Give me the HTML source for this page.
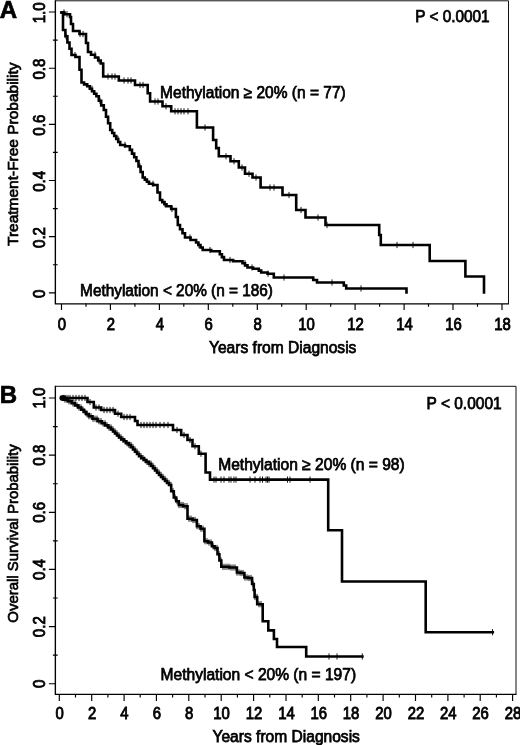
<!DOCTYPE html>
<html lang="en"><head><meta charset="utf-8"><title>Figure</title>
<style>html,body{margin:0;padding:0;background:#fff}svg{display:block;will-change:transform;opacity:0.999}</style></head>
<body>
<svg width="520" height="745" viewBox="0 0 520 745">
<rect width="520" height="745" fill="#fff"/>
<path d="M55.4 303.9 V0.8 H508.5 V303.9" fill="none" stroke="#111" stroke-width="1"/>
<path d="M55.4 0.30000000000000004 V303.9 H509.0" fill="none" stroke="#000" stroke-width="1.3"/>
<path d="M48.9 292.8 H55.4 M52.9 264.7 H57.699999999999996 M48.9 236.6 H55.4 M52.9 208.6 H57.699999999999996 M48.9 180.5 H55.4 M52.9 152.4 H57.699999999999996 M48.9 124.3 H55.4 M52.9 96.2 H57.699999999999996 M48.9 68.2 H55.4 M52.9 40.1 H57.699999999999996 M48.9 12.0 H55.4 M61.5 303.9 v6.0 M86.0 303.4 v3.3 M110.4 303.9 v6.0 M134.9 303.4 v3.3 M159.4 303.9 v6.0 M183.8 303.4 v3.3 M208.3 303.9 v6.0 M232.8 303.4 v3.3 M257.3 303.9 v6.0 M281.7 303.4 v3.3 M306.2 303.9 v6.0 M330.7 303.4 v3.3 M355.1 303.9 v6.0 M379.6 303.4 v3.3 M404.1 303.9 v6.0 M428.5 303.4 v3.3 M453.0 303.9 v6.0 M477.5 303.4 v3.3 M502.0 303.9 v6.0" fill="none" stroke="#000" stroke-width="1.15"/>
<text transform="translate(44.7 293.7) rotate(-90) scale(0.93 1)" text-anchor="middle" font-family="Liberation Sans, Arial, Helvetica, sans-serif" font-size="16.2" stroke="#000" stroke-width="0.85">0</text>
<text transform="translate(44.7 237.5) rotate(-90) scale(0.93 1)" text-anchor="middle" font-family="Liberation Sans, Arial, Helvetica, sans-serif" font-size="16.2" stroke="#000" stroke-width="0.85">0.2</text>
<text transform="translate(44.7 181.4) rotate(-90) scale(0.93 1)" text-anchor="middle" font-family="Liberation Sans, Arial, Helvetica, sans-serif" font-size="16.2" stroke="#000" stroke-width="0.85">0.4</text>
<text transform="translate(44.7 125.2) rotate(-90) scale(0.93 1)" text-anchor="middle" font-family="Liberation Sans, Arial, Helvetica, sans-serif" font-size="16.2" stroke="#000" stroke-width="0.85">0.6</text>
<text transform="translate(44.7 69.1) rotate(-90) scale(0.93 1)" text-anchor="middle" font-family="Liberation Sans, Arial, Helvetica, sans-serif" font-size="16.2" stroke="#000" stroke-width="0.85">0.8</text>
<text transform="translate(44.7 12.9) rotate(-90) scale(0.93 1)" text-anchor="middle" font-family="Liberation Sans, Arial, Helvetica, sans-serif" font-size="16.2" stroke="#000" stroke-width="0.85">1.0</text>
<text transform="translate(61.9 329.5) scale(0.92 1)" text-anchor="middle" font-family="Liberation Sans, Arial, Helvetica, sans-serif" font-size="16.2" stroke="#000" stroke-width="0.85">0</text>
<text transform="translate(110.8 329.5) scale(0.92 1)" text-anchor="middle" font-family="Liberation Sans, Arial, Helvetica, sans-serif" font-size="16.2" stroke="#000" stroke-width="0.85">2</text>
<text transform="translate(159.8 329.5) scale(0.92 1)" text-anchor="middle" font-family="Liberation Sans, Arial, Helvetica, sans-serif" font-size="16.2" stroke="#000" stroke-width="0.85">4</text>
<text transform="translate(208.7 329.5) scale(0.92 1)" text-anchor="middle" font-family="Liberation Sans, Arial, Helvetica, sans-serif" font-size="16.2" stroke="#000" stroke-width="0.85">6</text>
<text transform="translate(257.7 329.5) scale(0.92 1)" text-anchor="middle" font-family="Liberation Sans, Arial, Helvetica, sans-serif" font-size="16.2" stroke="#000" stroke-width="0.85">8</text>
<text transform="translate(306.6 329.5) scale(0.92 1)" text-anchor="middle" font-family="Liberation Sans, Arial, Helvetica, sans-serif" font-size="16.2" stroke="#000" stroke-width="0.85">10</text>
<text transform="translate(355.5 329.5) scale(0.92 1)" text-anchor="middle" font-family="Liberation Sans, Arial, Helvetica, sans-serif" font-size="16.2" stroke="#000" stroke-width="0.85">12</text>
<text transform="translate(404.5 329.5) scale(0.92 1)" text-anchor="middle" font-family="Liberation Sans, Arial, Helvetica, sans-serif" font-size="16.2" stroke="#000" stroke-width="0.85">14</text>
<text transform="translate(453.4 329.5) scale(0.92 1)" text-anchor="middle" font-family="Liberation Sans, Arial, Helvetica, sans-serif" font-size="16.2" stroke="#000" stroke-width="0.85">16</text>
<text transform="translate(502.4 329.5) scale(0.92 1)" text-anchor="middle" font-family="Liberation Sans, Arial, Helvetica, sans-serif" font-size="16.2" stroke="#000" stroke-width="0.85">18</text>
<text x="-0.3" y="17.6" font-family="Liberation Sans, Arial, Helvetica, sans-serif" font-size="24" font-weight="bold" stroke="#000" stroke-width="0.7">A</text>
<text transform="translate(17.6 154.2) rotate(-90)" text-anchor="middle" textLength="183.5" lengthAdjust="spacingAndGlyphs" font-family="Liberation Sans, Arial, Helvetica, sans-serif" font-size="15.5" stroke="#000" stroke-width="0.7">Treatment-Free Probability</text>
<path d="M55.4 694.4 V386.3 H516.0 V694.4" fill="none" stroke="#111" stroke-width="1"/>
<path d="M55.4 385.8 V694.4 H516.5" fill="none" stroke="#000" stroke-width="1.3"/>
<path d="M48.9 683.7 H55.4 M52.9 655.1 H57.699999999999996 M48.9 626.6 H55.4 M52.9 598.0 H57.699999999999996 M48.9 569.4 H55.4 M52.9 540.9 H57.699999999999996 M48.9 512.3 H55.4 M52.9 483.7 H57.699999999999996 M48.9 455.1 H55.4 M52.9 426.6 H57.699999999999996 M48.9 398.0 H55.4 M59.3 694.4 v6.6 M75.5 693.9 v3.6 M91.7 694.4 v6.6 M107.9 693.9 v3.6 M124.1 694.4 v6.6 M140.2 693.9 v3.6 M156.4 694.4 v6.6 M172.6 693.9 v3.6 M188.8 694.4 v6.6 M205.0 693.9 v3.6 M221.2 694.4 v6.6 M237.4 693.9 v3.6 M253.6 694.4 v6.6 M269.8 693.9 v3.6 M286.0 694.4 v6.6 M302.2 693.9 v3.6 M318.3 694.4 v6.6 M334.5 693.9 v3.6 M350.7 694.4 v6.6 M366.9 693.9 v3.6 M383.1 694.4 v6.6 M399.3 693.9 v3.6 M415.5 694.4 v6.6 M431.7 693.9 v3.6 M447.9 694.4 v6.6 M464.1 693.9 v3.6 M480.2 694.4 v6.6 M496.4 693.9 v3.6 M512.6 694.4 v6.6" fill="none" stroke="#000" stroke-width="1.15"/>
<text transform="translate(44.7 683.8) rotate(-90) scale(0.93 1)" text-anchor="middle" font-family="Liberation Sans, Arial, Helvetica, sans-serif" font-size="16.2" stroke="#000" stroke-width="0.85">0</text>
<text transform="translate(44.7 626.7) rotate(-90) scale(0.93 1)" text-anchor="middle" font-family="Liberation Sans, Arial, Helvetica, sans-serif" font-size="16.2" stroke="#000" stroke-width="0.85">0.2</text>
<text transform="translate(44.7 569.5) rotate(-90) scale(0.93 1)" text-anchor="middle" font-family="Liberation Sans, Arial, Helvetica, sans-serif" font-size="16.2" stroke="#000" stroke-width="0.85">0.4</text>
<text transform="translate(44.7 512.4) rotate(-90) scale(0.93 1)" text-anchor="middle" font-family="Liberation Sans, Arial, Helvetica, sans-serif" font-size="16.2" stroke="#000" stroke-width="0.85">0.6</text>
<text transform="translate(44.7 455.2) rotate(-90) scale(0.93 1)" text-anchor="middle" font-family="Liberation Sans, Arial, Helvetica, sans-serif" font-size="16.2" stroke="#000" stroke-width="0.85">0.8</text>
<text transform="translate(44.7 398.1) rotate(-90) scale(0.93 1)" text-anchor="middle" font-family="Liberation Sans, Arial, Helvetica, sans-serif" font-size="16.2" stroke="#000" stroke-width="0.85">1.0</text>
<text transform="translate(59.7 719.3) scale(0.92 1)" text-anchor="middle" font-family="Liberation Sans, Arial, Helvetica, sans-serif" font-size="16.2" stroke="#000" stroke-width="0.85">0</text>
<text transform="translate(92.1 719.3) scale(0.92 1)" text-anchor="middle" font-family="Liberation Sans, Arial, Helvetica, sans-serif" font-size="16.2" stroke="#000" stroke-width="0.85">2</text>
<text transform="translate(124.5 719.3) scale(0.92 1)" text-anchor="middle" font-family="Liberation Sans, Arial, Helvetica, sans-serif" font-size="16.2" stroke="#000" stroke-width="0.85">4</text>
<text transform="translate(156.8 719.3) scale(0.92 1)" text-anchor="middle" font-family="Liberation Sans, Arial, Helvetica, sans-serif" font-size="16.2" stroke="#000" stroke-width="0.85">6</text>
<text transform="translate(189.2 719.3) scale(0.92 1)" text-anchor="middle" font-family="Liberation Sans, Arial, Helvetica, sans-serif" font-size="16.2" stroke="#000" stroke-width="0.85">8</text>
<text transform="translate(221.6 719.3) scale(0.92 1)" text-anchor="middle" font-family="Liberation Sans, Arial, Helvetica, sans-serif" font-size="16.2" stroke="#000" stroke-width="0.85">10</text>
<text transform="translate(254.0 719.3) scale(0.92 1)" text-anchor="middle" font-family="Liberation Sans, Arial, Helvetica, sans-serif" font-size="16.2" stroke="#000" stroke-width="0.85">12</text>
<text transform="translate(286.4 719.3) scale(0.92 1)" text-anchor="middle" font-family="Liberation Sans, Arial, Helvetica, sans-serif" font-size="16.2" stroke="#000" stroke-width="0.85">14</text>
<text transform="translate(318.7 719.3) scale(0.92 1)" text-anchor="middle" font-family="Liberation Sans, Arial, Helvetica, sans-serif" font-size="16.2" stroke="#000" stroke-width="0.85">16</text>
<text transform="translate(351.1 719.3) scale(0.92 1)" text-anchor="middle" font-family="Liberation Sans, Arial, Helvetica, sans-serif" font-size="16.2" stroke="#000" stroke-width="0.85">18</text>
<text transform="translate(383.5 719.3) scale(0.92 1)" text-anchor="middle" font-family="Liberation Sans, Arial, Helvetica, sans-serif" font-size="16.2" stroke="#000" stroke-width="0.85">20</text>
<text transform="translate(415.9 719.3) scale(0.92 1)" text-anchor="middle" font-family="Liberation Sans, Arial, Helvetica, sans-serif" font-size="16.2" stroke="#000" stroke-width="0.85">22</text>
<text transform="translate(448.3 719.3) scale(0.92 1)" text-anchor="middle" font-family="Liberation Sans, Arial, Helvetica, sans-serif" font-size="16.2" stroke="#000" stroke-width="0.85">24</text>
<text transform="translate(480.6 719.3) scale(0.92 1)" text-anchor="middle" font-family="Liberation Sans, Arial, Helvetica, sans-serif" font-size="16.2" stroke="#000" stroke-width="0.85">26</text>
<text transform="translate(513.0 719.3) scale(0.92 1)" text-anchor="middle" font-family="Liberation Sans, Arial, Helvetica, sans-serif" font-size="16.2" stroke="#000" stroke-width="0.85">28</text>
<text x="-0.3" y="403.1" font-family="Liberation Sans, Arial, Helvetica, sans-serif" font-size="24" font-weight="bold" stroke="#000" stroke-width="0.7">B</text>
<text transform="translate(18.1 533.5) rotate(-90)" text-anchor="middle" textLength="178.3" lengthAdjust="spacingAndGlyphs" font-family="Liberation Sans, Arial, Helvetica, sans-serif" font-size="15.5" stroke="#000" stroke-width="0.7">Overall Survival Probability</text>
<path d="M61.5 12.5 L64.5 12.5 L64.5 14.2 L70.0 14.2 L70.0 17.0 L71.0 17.0 L71.0 24.0 L73.0 24.0 L73.0 31.0 L74.0 31.0 L79.5 31.0 L79.5 34.0 L85.0 34.0 L86.0 34.0 L86.0 43.0 L88.0 43.0 L88.0 52.0 L89.0 52.0 L91.0 52.0 L91.0 54.8 L95.0 54.8 L95.0 57.5 L97.0 57.5 L98.2 57.5 L98.2 60.5 L100.8 60.5 L100.8 63.5 L102.0 63.5 L103.2 63.5 L103.2 76.5 L104.5 76.5 L118.8 76.5 L118.8 80.5 L135.0 80.5 L135.0 85.0 L146.5 85.0 L147.7 85.0 L147.7 93.2 L150.1 93.2 L150.1 101.5 L151.2 101.5 L162.5 101.5 L162.5 106.2 L171.2 106.2 L171.2 111.2 L196.2 111.2 L196.9 111.2 L196.9 127.5 L197.5 127.5 L211.2 127.5 L213.1 127.5 L213.1 140.0 L215.0 140.0 L216.2 140.0 L216.2 148.1 L218.8 148.1 L218.8 156.2 L220.0 156.2 L230.0 156.2 L230.5 156.2 L230.5 161.2 L231.0 161.2 L238.8 161.2 L238.8 167.5 L245.0 167.5 L245.0 173.8 L252.5 173.8 L252.5 177.5 L260.0 177.5 L260.6 177.5 L260.6 187.5 L261.2 187.5 L282.5 187.5 L282.5 195.0 L295.0 195.0 L296.2 195.0 L296.2 210.0 L297.5 210.0 L305.0 210.0 L305.5 210.0 L305.5 217.5 L306.0 217.5 L325.0 217.5 L325.5 217.5 L325.5 225.0 L326.0 225.0 L378.5 225.0 L379.2 225.0 L379.2 235.0 L380.0 235.0 L380.8 235.0 L380.8 245.0 L381.5 245.0 L429.7 245.0 L429.7 261.0 L465.4 261.0 L465.4 276.5 L484.0 276.5 L484.0 292.5" fill="none" stroke="#000" stroke-width="2.6" stroke-linejoin="miter" stroke-linecap="square"/>
<path d="M64.0 9.4 v6.2 M67.0 11.1 v6.2 M80.0 30.9 v6.2 M83.0 30.9 v6.2 M95.0 51.6 v6.2 M99.0 57.4 v6.2 M108.0 73.4 v6.2 M112.0 73.4 v6.2 M115.0 73.4 v6.2 M124.0 77.4 v6.2 M128.0 77.4 v6.2 M131.0 77.4 v6.2 M140.0 81.9 v6.2 M143.0 81.9 v6.2 M155.0 98.4 v6.2 M158.0 98.4 v6.2 M166.0 103.2 v6.2 M175.0 108.2 v6.2 M178.0 108.2 v6.2 M181.0 108.2 v6.2 M184.0 108.2 v6.2 M188.0 108.2 v6.2 M205.0 124.4 v6.2 M226.0 153.2 v6.2 M234.0 158.2 v6.2 M242.0 164.4 v6.2 M249.0 170.7 v6.2 M256.0 174.4 v6.2 M270.0 184.4 v6.2 M274.0 184.4 v6.2 M289.0 191.9 v6.2 M301.0 206.9 v6.2 M318.0 214.4 v6.2 M327.0 221.9 v6.2 M397.0 241.9 v6.2 M413.0 241.9 v6.2" fill="none" stroke="#000" stroke-width="0.9"/>
<path d="M61.5 12.5 L63.0 12.5 L63.0 30.0 L64.4 30.0 L65.4 30.0 L65.4 36.2 L67.4 36.2 L67.4 42.5 L69.5 42.5 L69.5 48.8 L71.5 48.8 L71.5 55.0 L72.5 55.0 L75.5 55.0 L75.5 57.0 L78.5 57.0 L79.5 57.0 L79.5 69.8 L81.5 69.8 L81.5 82.5 L82.5 82.5 L84.1 82.5 L84.1 84.4 L87.2 84.4 L87.2 86.2 L88.8 86.2 L89.8 86.2 L89.8 88.8 L92.0 88.8 L92.0 91.2 L94.2 91.2 L94.2 93.8 L96.4 93.8 L96.4 96.2 L97.5 96.2 L98.8 96.2 L98.8 100.8 L101.2 100.8 L101.2 105.4 L103.8 105.4 L103.8 110.0 L105.0 110.0 L106.0 110.0 L106.0 116.7 L108.1 116.7 L108.1 123.3 L110.2 123.3 L110.2 130.0 L111.2 130.0 L112.2 130.0 L112.2 133.0 L114.2 133.0 L114.2 136.0 L116.2 136.0 L116.2 139.0 L118.2 139.0 L118.2 142.0 L120.2 142.0 L120.2 145.0 L121.2 145.0 L125.0 145.0 L125.0 146.2 L128.8 146.2 L129.8 146.2 L129.8 149.9 L132.0 149.9 L132.0 153.6 L134.2 153.6 L134.2 157.3 L136.4 157.3 L136.4 161.0 L137.5 161.0 L138.5 161.0 L138.5 166.5 L140.6 166.5 L140.6 172.0 L142.7 172.0 L142.7 177.5 L143.8 177.5 L144.8 177.5 L144.8 179.6 L146.9 179.6 L146.9 181.7 L149.0 181.7 L149.0 183.8 L150.0 183.8 L153.1 183.8 L153.1 185.0 L156.2 185.0 L157.5 185.0 L157.5 192.5 L160.0 192.5 L160.0 200.0 L161.2 200.0 L162.3 200.0 L162.3 202.1 L164.4 202.1 L164.4 204.2 L166.5 204.2 L166.5 206.2 L167.5 206.2 L171.2 206.2 L171.2 209.0 L175.0 209.0 L175.9 209.0 L175.9 217.0 L177.8 217.0 L177.8 225.0 L178.8 225.0 L180.0 225.0 L180.0 229.2 L182.5 229.2 L182.5 233.3 L185.0 233.3 L185.0 237.5 L186.2 237.5 L190.6 237.5 L190.6 240.0 L195.0 240.0 L196.1 240.0 L196.1 242.5 L198.3 242.5 L198.3 245.0 L200.5 245.0 L200.5 247.5 L202.7 247.5 L202.7 250.0 L203.8 250.0 L211.2 250.0 L211.2 251.2 L218.8 251.2 L219.8 251.2 L219.8 254.2 L221.9 254.2 L221.9 257.1 L224.0 257.1 L224.0 260.0 L225.0 260.0 L233.1 260.0 L233.1 261.2 L241.2 261.2 L242.5 261.2 L242.5 263.3 L245.0 263.3 L245.0 265.4 L247.5 265.4 L247.5 267.5 L248.8 267.5 L253.1 267.5 L253.1 268.8 L257.5 268.8 L258.8 268.8 L258.8 270.6 L261.2 270.6 L261.2 272.5 L262.5 272.5 L267.5 272.5 L267.5 273.8 L272.5 273.8 L273.8 273.8 L273.8 277.5 L275.0 277.5 L312.5 277.5 L313.2 277.5 L313.2 280.0 L314.0 280.0 L317.0 280.0 L317.0 282.5 L320.0 282.5 L342.5 282.5 L343.8 282.5 L343.8 285.5 L346.2 285.5 L346.2 288.5 L347.5 288.5 L406.5 288.5 L406.5 292.5" fill="none" stroke="#000" stroke-width="2.6" stroke-linejoin="miter" stroke-linecap="square"/>
<path d="M66.0 33.1 v6.2 M75.0 51.9 v6.2 M92.0 85.7 v6.2 M100.0 97.7 v6.2 M118.0 135.9 v6.2 M125.0 141.9 v6.2 M140.0 163.4 v6.2 M153.0 180.7 v6.2 M165.0 201.1 v6.2 M172.0 205.9 v6.2 M190.0 234.4 v6.2 M199.0 241.9 v6.2 M210.0 246.9 v6.2 M230.0 256.9 v6.2 M245.0 260.2 v6.2 M252.0 264.4 v6.2 M268.0 270.6 v6.2 M284.0 274.4 v6.2 M332.0 279.4 v6.2 M361.0 285.4 v6.2" fill="none" stroke="#000" stroke-width="0.9"/>
<path d="M61.2 398.0 L87.5 398.0 L87.5 402.0 L93.8 402.0 L93.8 407.5 L101.2 407.5 L101.2 410.0 L115.0 410.0 L115.0 413.8 L121.2 413.8 L121.2 417.0 L133.8 417.0 L135.0 417.0 L135.0 421.0 L137.5 421.0 L137.5 425.0 L138.8 425.0 L172.5 425.0 L173.0 425.0 L173.0 430.0 L173.5 430.0 L181.2 430.0 L181.2 435.0 L187.5 435.0 L187.5 440.0 L192.5 440.0 L192.5 446.2 L198.8 446.2 L198.8 453.8 L205.0 453.8 L205.6 453.8 L205.6 472.5 L206.2 472.5 L210.0 472.5 L210.0 479.6 L328.2 479.6 L328.2 530.2 L342.0 530.2 L342.0 581.5 L425.7 581.5 L425.7 632.2 L492.8 632.2" fill="none" stroke="#000" stroke-width="2.6" stroke-linejoin="miter" stroke-linecap="square"/>
<path d="M64.0 394.9 v6.2 M66.0 394.9 v6.2 M68.0 394.9 v6.2 M70.0 394.9 v6.2 M73.0 394.9 v6.2 M76.0 394.9 v6.2 M79.0 394.9 v6.2 M82.0 394.9 v6.2 M85.0 394.9 v6.2 M90.0 398.9 v6.2 M96.0 404.4 v6.2 M99.0 404.4 v6.2 M104.0 406.9 v6.2 M107.0 406.9 v6.2 M110.0 406.9 v6.2 M113.0 406.9 v6.2 M118.0 410.6 v6.2 M124.0 413.9 v6.2 M127.0 413.9 v6.2 M130.0 413.9 v6.2 M141.0 421.9 v6.2 M144.0 421.9 v6.2 M147.0 421.9 v6.2 M150.0 421.9 v6.2 M153.0 421.9 v6.2 M156.0 421.9 v6.2 M160.0 421.9 v6.2 M164.0 421.9 v6.2 M168.0 421.9 v6.2 M177.0 426.9 v6.2 M184.0 431.9 v6.2 M190.0 436.9 v6.2 M195.0 443.1 v6.2 M201.0 450.6 v6.2 M214.0 476.5 v6.2 M216.0 476.5 v6.2 M221.0 476.5 v6.2 M224.0 476.5 v6.2 M229.0 476.5 v6.2 M231.0 476.5 v6.2 M234.0 476.5 v6.2 M236.0 476.5 v6.2 M250.0 476.5 v6.2 M255.0 476.5 v6.2 M260.0 476.5 v6.2 M266.0 476.5 v6.2 M269.0 476.5 v6.2 M262.5 476.5 v6.2 M267.5 476.5 v6.2 M287.5 476.5 v6.2 M290.0 476.5 v6.2 M310.0 476.5 v6.2 M492.5 629.1 v6.2" fill="none" stroke="#000" stroke-width="0.9"/>
<path d="M61.2 398.0 L63.4 398.0 L63.4 399.6 L67.8 399.6 L67.8 401.2 L70.0 401.2 L71.7 401.2 L71.7 403.3 L75.0 403.3 L75.0 405.4 L78.3 405.4 L78.3 407.5 L80.0 407.5 L81.2 407.5 L81.2 409.7 L83.8 409.7 L83.8 411.9 L86.2 411.9 L86.2 414.1 L88.8 414.1 L88.8 416.2 L90.0 416.2 L92.5 416.2 L92.5 418.8 L97.5 418.8 L97.5 421.2 L100.0 421.2 L101.7 421.2 L101.7 423.3 L105.0 423.3 L105.0 425.4 L108.3 425.4 L108.3 427.5 L110.0 427.5 L111.0 427.5 L111.0 429.5 L113.0 429.5 L113.0 431.5 L115.0 431.5 L115.0 433.5 L117.0 433.5 L117.0 435.5 L119.0 435.5 L119.0 437.5 L120.0 437.5 L121.2 437.5 L121.2 439.4 L123.8 439.4 L123.8 441.2 L126.2 441.2 L126.2 443.1 L128.8 443.1 L128.8 445.0 L130.0 445.0 L131.0 445.0 L131.0 447.2 L133.0 447.2 L133.0 449.5 L135.0 449.5 L135.0 451.8 L137.0 451.8 L137.0 454.0 L139.0 454.0 L139.0 456.2 L140.0 456.2 L141.2 456.2 L141.2 458.1 L143.8 458.1 L143.8 460.0 L146.2 460.0 L146.2 461.9 L148.8 461.9 L148.8 463.8 L150.0 463.8 L151.0 463.8 L151.0 466.0 L153.0 466.0 L153.0 468.2 L155.0 468.2 L155.0 470.5 L157.0 470.5 L157.0 472.8 L159.0 472.8 L159.0 475.0 L160.0 475.0 L161.0 475.0 L161.0 477.0 L163.0 477.0 L163.0 479.0 L165.0 479.0 L165.0 481.0 L167.0 481.0 L167.0 483.0 L169.0 483.0 L169.0 485.0 L170.0 485.0 L171.2 485.0 L171.2 491.2 L173.8 491.2 L173.8 497.5 L175.0 497.5 L176.2 497.5 L176.2 501.2 L178.8 501.2 L178.8 505.0 L180.0 505.0 L183.1 505.0 L183.1 506.2 L186.2 506.2 L187.5 506.2 L187.5 518.8 L188.8 518.8 L192.5 518.8 L192.5 520.0 L196.2 520.0 L196.9 520.0 L196.9 526.2 L197.5 526.2 L200.6 526.2 L200.6 528.8 L203.8 528.8 L204.4 528.8 L204.4 541.2 L205.0 541.2 L208.1 541.2 L208.1 542.5 L211.2 542.5 L211.9 542.5 L211.9 546.2 L212.5 546.2 L214.6 546.2 L214.6 548.0 L216.6 548.0 L217.5 548.0 L217.5 554.3 L219.4 554.3 L219.4 560.5 L221.3 560.5 L221.3 566.8 L222.2 566.8 L229.2 566.8 L229.2 567.5 L236.2 567.5 L236.9 567.5 L236.9 572.5 L237.5 572.5 L240.6 572.5 L240.6 573.0 L243.8 573.0 L244.4 573.0 L244.4 577.5 L245.0 577.5 L248.1 577.5 L248.1 578.0 L251.2 578.0 L252.1 578.0 L252.1 584.0 L253.8 584.0 L253.8 590.0 L254.6 590.0 L254.6 597.0 L257.2 597.0 L257.2 604.2 L262.7 604.2 L262.7 621.3 L268.3 621.3 L268.3 630.4 L273.9 630.4 L273.9 639.0 L277.0 639.0 L277.0 647.0 L306.2 647.0 L306.2 656.5 L362.4 656.5" fill="none" stroke="#000" stroke-width="2.6" stroke-linejoin="miter" stroke-linecap="square"/>
<path d="M63.0 394.9 v6.2 M65.0 396.5 v6.2 M67.0 396.5 v6.2 M69.0 398.1 v6.2 M71.0 398.1 v6.2 M73.0 400.2 v6.2 M75.0 400.2 v6.2 M77.0 402.3 v6.2 M79.0 404.4 v6.2 M81.0 404.4 v6.2 M83.0 406.6 v6.2 M85.0 408.8 v6.2 M87.0 411.0 v6.2 M89.0 413.1 v6.2 M91.0 413.1 v6.2 M93.0 415.6 v6.2 M95.0 415.6 v6.2 M97.0 415.6 v6.2 M99.0 418.1 v6.2 M101.0 418.1 v6.2 M103.0 420.2 v6.2 M105.0 420.2 v6.2 M107.0 422.3 v6.2 M109.0 424.4 v6.2 M111.0 424.4 v6.2 M113.0 426.4 v6.2 M115.0 428.4 v6.2 M117.0 430.4 v6.2 M119.0 432.4 v6.2 M121.0 434.4 v6.2 M123.0 436.3 v6.2 M125.0 438.1 v6.2 M127.0 440.0 v6.2 M129.0 441.9 v6.2 M131.0 441.9 v6.2 M133.0 444.1 v6.2 M135.0 446.4 v6.2 M137.0 448.6 v6.2 M139.0 450.9 v6.2 M141.0 453.1 v6.2 M143.0 455.0 v6.2 M145.0 456.9 v6.2 M147.0 458.8 v6.2 M149.0 460.6 v6.2 M151.0 460.6 v6.2 M153.0 462.9 v6.2 M155.0 465.1 v6.2 M157.0 467.4 v6.2 M159.0 469.6 v6.2 M161.0 471.9 v6.2 M163.0 473.9 v6.2 M165.0 475.9 v6.2 M167.0 477.9 v6.2 M169.0 479.9 v6.2 M171.0 481.9 v6.2 M173.0 488.1 v6.2 M175.0 494.4 v6.2 M177.0 498.1 v6.2 M179.0 501.9 v6.2 M181.0 501.9 v6.2 M183.0 501.9 v6.2 M185.0 503.1 v6.2 M187.0 503.1 v6.2 M189.0 515.6 v6.2 M191.0 515.6 v6.2 M193.0 516.9 v6.2 M195.0 516.9 v6.2 M197.0 523.1 v6.2 M199.0 523.1 v6.2 M201.0 525.6 v6.2 M203.0 525.6 v6.2 M205.0 538.1 v6.2 M207.0 538.1 v6.2 M209.0 539.4 v6.2 M211.0 539.4 v6.2 M213.0 543.1 v6.2 M215.0 544.9 v6.2 M217.0 544.9 v6.2 M219.0 551.2 v6.2 M221.0 557.4 v6.2 M223.0 563.7 v6.2 M225.0 563.7 v6.2 M227.0 563.7 v6.2 M229.0 563.7 v6.2 M231.0 564.4 v6.2 M233.0 564.4 v6.2 M235.0 564.4 v6.2 M237.0 569.4 v6.2 M239.0 569.4 v6.2 M241.0 569.9 v6.2 M243.0 569.9 v6.2 M245.0 574.4 v6.2 M247.0 574.4 v6.2 M249.0 574.9 v6.2 M251.0 574.9 v6.2 M253.0 580.9 v6.2 M255.0 593.9 v6.2 M257.0 593.9 v6.2 M259.0 601.1 v6.2 M261.0 601.1 v6.2 M329.0 653.4 v6.2 M337.0 653.4 v6.2 M362.3 653.4 v6.2" fill="none" stroke="#000" stroke-width="0.9"/>
<rect x="59.6" y="395.2" width="6.6" height="5.6" rx="2" fill="#000"/>
<text x="415.2" y="22.2" text-anchor="start" textLength="74.4" lengthAdjust="spacingAndGlyphs" font-family="Liberation Sans, Arial, Helvetica, sans-serif" font-size="16" stroke="#000" stroke-width="0.75">P &lt; 0.0001</text>
<text x="160.1" y="98.2" text-anchor="start" textLength="185.6" lengthAdjust="spacingAndGlyphs" font-family="Liberation Sans, Arial, Helvetica, sans-serif" font-size="16" stroke="#000" stroke-width="0.75">Methylation ≥ 20% (n = 77)</text>
<text x="80.1" y="296" text-anchor="start" textLength="192.9" lengthAdjust="spacingAndGlyphs" font-family="Liberation Sans, Arial, Helvetica, sans-serif" font-size="16" stroke="#000" stroke-width="0.75">Methylation &lt; 20% (n = 186)</text>
<text x="209.0" y="352.5" text-anchor="start" textLength="147.4" lengthAdjust="spacingAndGlyphs" font-family="Liberation Sans, Arial, Helvetica, sans-serif" font-size="16" stroke="#000" stroke-width="0.75">Years from Diagnosis</text>
<text x="426.6" y="408.5" text-anchor="start" textLength="75.0" lengthAdjust="spacingAndGlyphs" font-family="Liberation Sans, Arial, Helvetica, sans-serif" font-size="16" stroke="#000" stroke-width="0.75">P &lt; 0.0001</text>
<text x="218.2" y="470.2" text-anchor="start" textLength="186.5" lengthAdjust="spacingAndGlyphs" font-family="Liberation Sans, Arial, Helvetica, sans-serif" font-size="16" stroke="#000" stroke-width="0.75">Methylation ≥ 20% (n = 98)</text>
<text x="160.6" y="679.5" text-anchor="start" textLength="195.5" lengthAdjust="spacingAndGlyphs" font-family="Liberation Sans, Arial, Helvetica, sans-serif" font-size="16" stroke="#000" stroke-width="0.75">Methylation &lt; 20% (n = 197)</text>
<text x="212.5" y="741.7" text-anchor="start" textLength="147.4" lengthAdjust="spacingAndGlyphs" font-family="Liberation Sans, Arial, Helvetica, sans-serif" font-size="16" stroke="#000" stroke-width="0.75">Years from Diagnosis</text>
</svg>
</body></html>
